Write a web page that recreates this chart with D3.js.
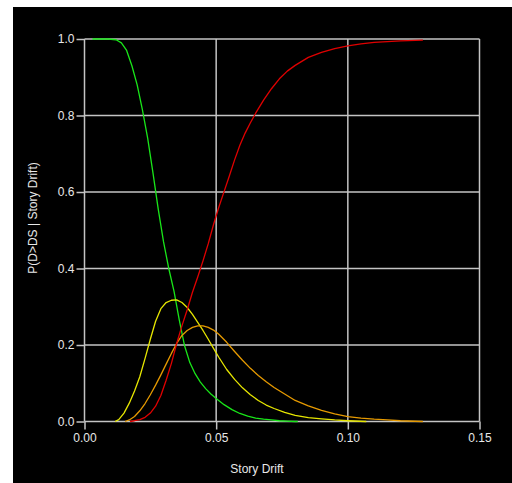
<!DOCTYPE html>
<html>
<head>
<meta charset="utf-8">
<script src="https://cdn.jsdelivr.net/npm/d3@7"></script>
<style>
html,body{margin:0;padding:0;background:#fff;}
svg{display:block;}
text{font-family:"Liberation Sans",Arial,sans-serif;}
</style>
</head>
<body>
<svg id="chart" width="512" height="483"></svg>
<script>
// ---- data ----
const xTicks = [0.00, 0.05, 0.10, 0.15];
const yTicks = [0.0, 0.2, 0.4, 0.6, 0.8, 1.0];
const xLabel = "Story Drift";
const yLabel = "P(D>DS | Story Drift)";

const greenDrift = [0.003,0.006,0.009,0.012,0.014,0.016,0.018,0.020,0.022,0.024,0.026,0.028,0.030,0.032,0.034,0.036,0.038,0.040,0.042,0.044,0.046,0.048,0.050,0.053,0.056,0.059,0.062,0.065,0.068,0.071,0.074,0.077,0.080,0.081];
const greenP     = [1.000,1.000,1.000,0.998,0.990,0.970,0.930,0.880,0.815,0.740,0.650,0.555,0.470,0.400,0.340,0.265,0.198,0.154,0.125,0.103,0.086,0.072,0.060,0.044,0.031,0.021,0.014,0.009,0.006,0.004,0.002,0.001,0.000,0.000];

const yellowDrift = [0.0116,0.013,0.015,0.017,0.019,0.021,0.023,0.025,0.027,0.029,0.031,0.033,0.035,0.037,0.039,0.041,0.043,0.045,0.047,0.049,0.051,0.054,0.057,0.060,0.063,0.066,0.069,0.072,0.076,0.080,0.085,0.090,0.095,0.100,0.107];
const yellowP     = [0.000,0.005,0.022,0.048,0.080,0.117,0.165,0.215,0.262,0.295,0.311,0.317,0.318,0.311,0.298,0.280,0.259,0.238,0.215,0.191,0.168,0.136,0.110,0.088,0.070,0.055,0.043,0.034,0.024,0.016,0.010,0.007,0.004,0.002,0.000];

const orangeDrift = [0.0154,0.017,0.019,0.021,0.023,0.025,0.027,0.029,0.031,0.033,0.035,0.037,0.039,0.041,0.043,0.045,0.047,0.049,0.051,0.054,0.057,0.060,0.063,0.066,0.069,0.072,0.076,0.080,0.085,0.090,0.095,0.100,0.105,0.110,0.115,0.120,0.1285];
const orangeP     = [0.000,0.004,0.013,0.028,0.047,0.070,0.095,0.122,0.150,0.178,0.204,0.225,0.238,0.246,0.250,0.250,0.246,0.239,0.228,0.207,0.183,0.160,0.139,0.120,0.104,0.089,0.072,0.055,0.041,0.029,0.020,0.013,0.009,0.006,0.004,0.002,0.000];

const redDrift = [0.0173,0.019,0.021,0.023,0.025,0.027,0.029,0.031,0.033,0.035,0.037,0.039,0.041,0.043,0.045,0.047,0.049,0.051,0.053,0.055,0.057,0.059,0.061,0.063,0.065,0.068,0.071,0.074,0.077,0.080,0.085,0.090,0.095,0.100,0.105,0.110,0.115,0.120,0.1285];
const redP     = [0.000,0.002,0.005,0.011,0.022,0.040,0.068,0.108,0.152,0.204,0.250,0.292,0.338,0.378,0.420,0.465,0.515,0.560,0.601,0.642,0.684,0.722,0.754,0.781,0.806,0.840,0.870,0.896,0.916,0.931,0.952,0.965,0.975,0.982,0.987,0.991,0.993,0.995,0.997];

const seriesList = [
  {name:"green",  drift:greenDrift,  p:greenP,  color:"#19e619"},
  {name:"yellow", drift:yellowDrift, p:yellowP, color:"#e6e600"},
  {name:"orange", drift:orangeDrift, p:orangeP, color:"#e69a00"},
  {name:"red",    drift:redDrift,    p:redP,    color:"#e00000"}
];

// ---- layout ----
const svg = d3.select("#chart");
svg.append("rect").attr("x",13).attr("y",7).attr("width",499).attr("height",476).attr("fill","#000");

const plotL = 84.5, plotR = 479.5, plotT = 39, plotB = 421.5;
const x = d3.scaleLinear().domain([0,0.15]).range([plotL,plotR]);
const y = d3.scaleLinear().domain([0,1]).range([plotB,plotT]);
const gridColor = "#c4c4c4";

// grid
const g = svg.append("g");
g.selectAll(".vg").data(xTicks).enter().append("line")
  .attr("x1",d=>x(d)).attr("x2",d=>x(d)).attr("y1",plotT).attr("y2",plotB)
  .attr("stroke",gridColor).attr("stroke-width",1.5);
g.selectAll(".hg").data(yTicks).enter().append("line")
  .attr("x1",plotL).attr("x2",plotR).attr("y1",d=>y(d)).attr("y2",d=>y(d))
  .attr("stroke",gridColor).attr("stroke-width",1.5);

// axes
const xAxis = d3.axisBottom(x).tickValues(xTicks).tickFormat(d3.format(".2f")).tickSize(8).tickPadding(4);
const yAxis = d3.axisLeft(y).tickValues(yTicks).tickFormat(d3.format(".1f")).tickSize(8).tickPadding(2);
const gx = svg.append("g").attr("transform",`translate(0,${plotB})`).call(xAxis);
const gy = svg.append("g").attr("transform",`translate(${plotL},0)`).call(yAxis);
[gx,gy].forEach(a=>{
  a.select(".domain").remove();
  a.selectAll("line").attr("stroke",gridColor).attr("stroke-width",1.5);
  a.selectAll("text").attr("fill","#e8e8e8").attr("font-size","12px")
   .attr("font-family","'Liberation Sans',Arial,sans-serif");
});

// lines
const line = d3.line().x(d=>x(d[0])).y(d=>y(d[1]));
seriesList.forEach(s=>{
  const pts = s.drift.map((d,i)=>[d,s.p[i]]);
  svg.append("path").datum(pts).attr("d",line)
    .attr("fill","none").attr("stroke",s.color).attr("stroke-width",1.3)
    .attr("stroke-linejoin","round");
});

// labels
svg.append("text").attr("x",(plotL+plotR)/2 - 25).attr("y",473)
  .attr("text-anchor","middle").attr("fill","#e8e8e8").attr("font-size","12px").text(xLabel);
svg.append("text").attr("transform","translate(37,218) rotate(-90)")
  .attr("text-anchor","middle").attr("fill","#e8e8e8").attr("font-size","12px").text(yLabel);
</script>
</body>
</html>
